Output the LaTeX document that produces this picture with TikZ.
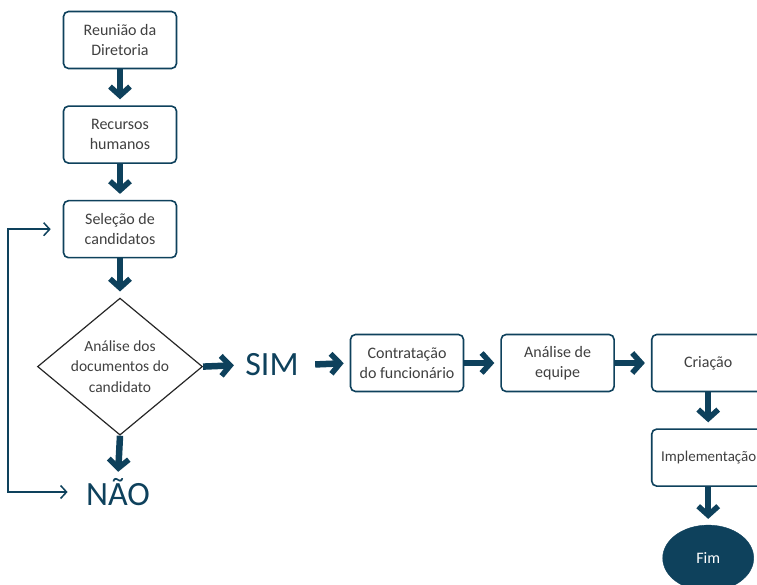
\documentclass[tikz,border=0pt]{standalone}
\usepackage{fontspec}
\setmainfont{Carlito}
\usetikzlibrary{arrows.meta, positioning, shapes.geometric}
\definecolor{petrol}{RGB}{14,65,92}
\definecolor{txtgray}{RGB}{64,64,64}
\tikzstyle{etapa}=[draw=petrol, line width=1.6pt, rounded corners=5pt, fill=white, minimum width=113pt, minimum height=57pt, align=center, text=txtgray, font=\fontsize{16}{20}\selectfont, inner sep=2pt]
\tikzstyle{decisao}=[diamond, draw=black!85, line width=1.2pt, minimum width=165pt, minimum height=137pt, inner sep=0pt]
\tikzstyle{seta}=[draw=petrol, line width=6.5pt, -{Straight Barb[length=9pt, width=20pt, line width=5.5pt]}, shorten >=6pt]
\tikzstyle{resposta}=[text=petrol, font=\fontsize{34}{34}\selectfont]
\tikzstyle{retorno}=[draw=petrol, line width=1.5pt, {Straight Barb[length=6pt, width=13pt]}-{Straight Barb[length=6pt, width=13pt]}]

\begin{document}
\begin{tikzpicture}[node distance=36pt]
  \clip (0,0) rectangle (757pt,-585pt);
  \node[etapa] (reuniao) at (120pt,-40pt) {Reunião da\\Diretoria};
  \node[etapa] (recursos) [below=of reuniao] {Recursos\\humanos};
  \node[etapa] (selecao) [below=of recursos] {Seleção de\\candidatos};
  \node[decisao] (analise) [below=39pt of selecao] {};
  \node[text=txtgray, align=center, font=\fontsize{15.5}{20.5}\selectfont] (analisetxt) at (analise) {Análise dos\\documentos do\\candidato};
  \node[resposta] (nao) at (118pt,-492pt) {NÃO};
  \node[resposta] (sim) at (272pt,-365pt) {SIM};
  \node[etapa] (contratacao) at (407pt,-363pt) {Contratação\\do funcionário};
  \node[etapa] (equipe) [right=of contratacao] {Análise de\\equipe};
  \node[etapa] (criacao) [right=of equipe] {Criação};
  \node[etapa, font=\fontsize{15}{20}\selectfont, text width=94pt, align=left] (implementacao) [below=of criacao] {Implementação};
  \node[ellipse, fill=petrol, draw=petrol, minimum width=91pt, minimum height=66pt, inner sep=0pt, text=white, font=\fontsize{16}{20}\selectfont] (fim) [below=38pt of implementacao] {Fim};
  \coordinate (volta) at (8pt,-360pt);

  \draw[seta] (reuniao) -- (recursos);
  \draw[seta] (recursos) -- (selecao);
  \draw[seta] (selecao) -- (analise);
  \draw[seta, shorten >=3pt] (analise.south) -- (nao.north);
  \draw[seta, shorten >=8pt] (analise.east) -- (sim.west);
  \draw[seta, shorten <=13pt] (sim.east) -- (contratacao.west);
  \draw[seta] (contratacao) -- (equipe);
  \draw[seta] (equipe) -- (criacao);
  \draw[seta] (criacao) -- (implementacao);
  \draw[seta] (implementacao) -- (fim);
  \draw[retorno, shorten <=15pt, shorten >=12pt] (nao.west) -| (volta) |- (selecao.west);
\end{tikzpicture}
\end{document}
